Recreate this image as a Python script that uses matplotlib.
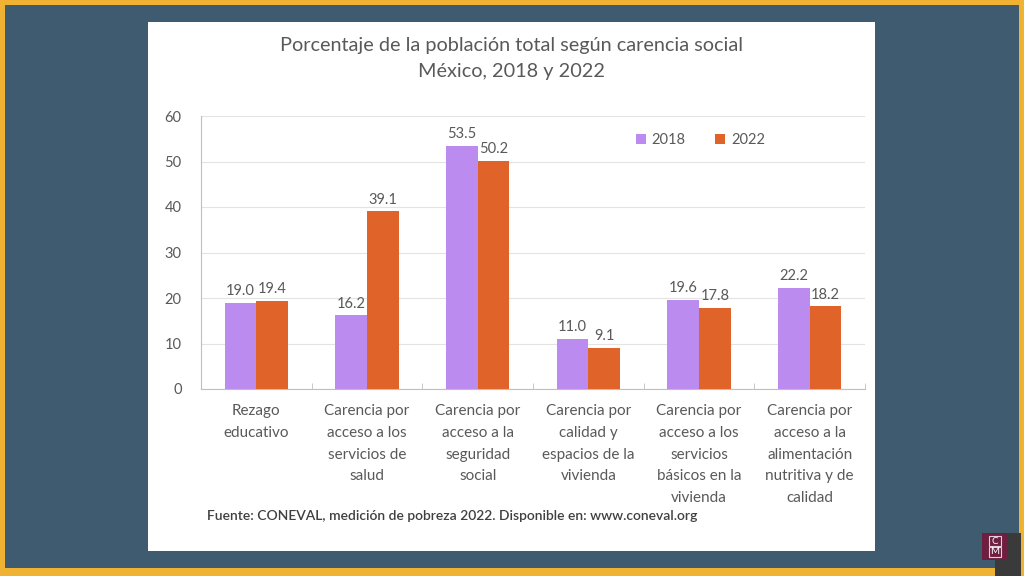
import matplotlib.pyplot as plt
import numpy as np
from matplotlib.patches import Rectangle

categorias = ['Rezago\neducativo',
              'Carencia por\nacceso a los\nservicios de\nsalud',
              'Carencia por\nacceso a la\nseguridad\nsocial',
              'Carencia por\ncalidad y\nespacios de la\nvivienda',
              'Carencia por\nacceso a los\nservicios\nbásicos en la\nvivienda',
              'Carencia por\nacceso a la\nalimentación\nnutritiva y de\ncalidad']
v2018 = [19.0, 16.2, 53.5, 11.0, 19.6, 22.2]
v2022 = [19.4, 39.1, 50.2, 9.1, 17.8, 18.2]
yticks = [0, 10, 20, 30, 40, 50, 60]

W, H = 1024, 576
plt.rcParams['font.family'] = ['Lato', 'DejaVu Sans']
fig = plt.figure(figsize=(W / 100, H / 100), dpi=100)
fig.patch.set_facecolor('#3e5b70')

def px_rect(x0, y0, x1, y1, color, z=0, edge='none'):
    # rectangle in pixel coords (top-left origin)
    r = Rectangle((x0 / W, 1 - y1 / H), (x1 - x0) / W, (y1 - y0) / H,
                  transform=fig.transFigure, facecolor=color, edgecolor=edge,
                  linewidth=0.8, zorder=z)
    fig.add_artist(r)

# marco amarillo
px_rect(0, 0, W, 5, '#efb232')
px_rect(0, 0, 5, H, '#efb232')
px_rect(0, 568, W, H, '#efb232')
px_rect(1019, 0, W, H, '#efb232')
# panel blanco
px_rect(148, 22, 875, 551, 'white')
# logo
px_rect(995, 533, 1021, H, '#3a3a3a', 1)
px_rect(982, 533, 1008, 560, '#6e1f3f', 2)
px_rect(989, 536, 1001, 546, 'none', 3, edge='#e0d0d8')
px_rect(989, 547, 1001, 557, 'none', 3, edge='#e0d0d8')
fig.text(995 / W, 1 - 541 / H, 'C', color='white', fontsize=7, ha='center', va='center', zorder=3)
fig.text(995 / W, 1 - 552 / H, 'M', color='white', fontsize=7, ha='center', va='center', zorder=3)

ax = fig.add_axes([201 / W, 1 - 389 / H, (865 - 201) / W, (389 - 116) / H])
ax.set_facecolor('white')
ax.set_zorder(5)

x = np.arange(len(categorias))
bw = 0.285
b1 = ax.bar(x - bw / 2, v2018, bw, color='#bb8bf0', label='2018', zorder=3)
b2 = ax.bar(x + bw / 2, v2022, bw, color='#e0632a', label='2022', zorder=3)

for rects, vals in ((b1, v2018), (b2, v2022)):
    for r, v in zip(rects, vals):
        ax.text(r.get_x() + r.get_width() / 2, v + 1.0, f'{v:.1f}', ha='center', va='bottom',
                fontsize=10.5, color='#595959')

ax.set_xlim(-0.5, len(categorias) - 0.5)
ax.set_ylim(0, 60)
ax.set_yticks(yticks)
ax.yaxis.grid(True, color='#e3e3e3', linewidth=0.8, zorder=0)
ax.set_axisbelow(True)
ax.set_xticks(x)
ax.set_xticklabels(categorias, fontsize=11, color='#595959', linespacing=1.7, va='top')
ax.set_xticks(np.arange(len(categorias) + 1) - 0.5, minor=True)
ax.tick_params(axis='x', which='major', length=0, pad=11)
ax.tick_params(axis='x', which='minor', length=4, direction='in', color='#bfbfbf')
ax.tick_params(axis='y', length=0, labelsize=10.5, labelcolor='#595959', pad=14)
for s in ('top', 'right'):
    ax.spines[s].set_visible(False)
ax.spines['left'].set_color('#bfbfbf')
ax.spines['bottom'].set_color('#bfbfbf')

ax.legend(loc='upper left', bbox_to_anchor=(0.635, 0.985), frameon=False, ncol=2,
          fontsize=10.5, labelcolor='#595959', handlelength=0.7, handleheight=0.7,
          handletextpad=0.4, columnspacing=2.0)

fig.text(512 / W, 1 - 45 / H, 'Porcentaje de la población total según carencia social',
         ha='center', va='center', fontsize=14.3, color='#595959')
fig.text(512 / W, 1 - 72 / H, 'México, 2018 y 2022',
         ha='center', va='center', fontsize=14.3, color='#595959')
fig.text(207 / W, 1 - 516 / H,
         'Fuente: CONEVAL, medición de pobreza 2022. Disponible en: www.coneval.org',
         ha='left', va='center', fontsize=10, color='#404040', fontweight='semibold')

fig.savefig('out.png', dpi=100)
